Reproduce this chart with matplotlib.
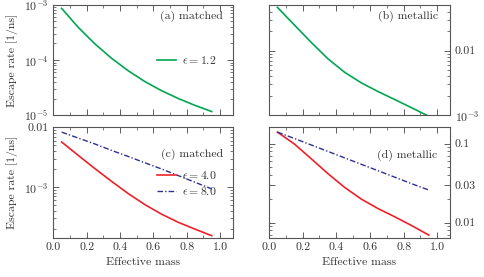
import numpy as np
import matplotlib
matplotlib.use("Agg")
import matplotlib.pyplot as plt
from matplotlib.ticker import FixedLocator, FixedFormatter, LogLocator, NullFormatter, MultipleLocator

# effective mass grid
mass = [0.05, 0.15, 0.25, 0.35, 0.45, 0.55, 0.65, 0.75, 0.85, 0.95]

# (a) matched, eps = 1.2
matched_12 = [8.59e-4, 3.88e-4, 1.95e-4, 1.07e-4, 6.37e-5, 4.06e-5, 2.78e-5, 2.01e-5, 1.51e-5, 1.17e-5]
# (b) metallic, eps = 1.2
metallic_12 = [0.0468, 0.0251, 0.0135, 0.0075, 0.00462, 0.00316, 0.00232, 0.00174, 0.0013, 0.000966]
# (c) matched, eps = 4.0 / 8.0
matched_40 = [5.68e-3, 3.38e-3, 2.03e-3, 1.24e-3, 7.74e-4, 5.06e-4, 3.5e-4, 2.56e-4, 1.97e-4, 1.53e-4]
matched_80 = [8.3e-3, 6.6e-3, 5.25e-3, 4.1e-3, 3.24e-3, 2.54e-3, 2.0e-3, 1.55e-3, 1.2e-3, 9.3e-4]
# (d) metallic, eps = 4.0 / 8.0
metallic_40 = [0.14, 0.0993, 0.0647, 0.0418, 0.0279, 0.0198, 0.0150, 0.0118, 0.00914, 0.00697]
metallic_80 = [0.14, 0.1164, 0.0964, 0.0798, 0.066, 0.0547, 0.0453, 0.0375, 0.031, 0.0259]

plt.rcParams['font.family'] = 'serif'
plt.rcParams['font.serif'] = ['cmr10', 'DejaVu Serif']
plt.rcParams['mathtext.fontset'] = 'cm'
plt.rcParams['axes.formatter.use_mathtext'] = True
plt.rcParams['font.size'] = 8.5

txt = '#333333'
green = '#00a651'
red = '#ee2129'
blue = '#2e3192'

fig = plt.figure(figsize=(4.84, 2.77), dpi=100)
W = 484.0
H = 277.0

def box(l, r, t, b):
    return [l / W, 1 - b / H, (r - l) / W, (b - t) / H]

axa = fig.add_axes(box(53.3, 232.7, 4.7, 115.3))
axb = fig.add_axes(box(269, 450, 4.7, 115.3))
axc = fig.add_axes(box(53.3, 232.7, 127.3, 238))
axd = fig.add_axes(box(269, 450, 127.3, 238))

dashdot = (0, (4, 1.5, 1, 1.5))
axa.plot(mass, matched_12, color=green, lw=1.2, label=r'$\epsilon = 1.2$')
axb.plot(mass, metallic_12, color=green, lw=1.2)
axc.plot(mass, matched_40, color=red, lw=1.2, label=r'$\epsilon = 4.0$')
axc.plot(mass, matched_80, color=blue, lw=1.0, ls=dashdot, label=r'$\epsilon = 8.0$')
axd.plot(mass, metallic_40, color=red, lw=1.2)
axd.plot(mass, metallic_80, color=blue, lw=1.0, ls=dashdot)

ylims = {axa: (1e-5, 1e-3), axb: (1e-3, 0.0514), axc: (1.4e-4, 0.01), axd: (0.0064, 0.161)}
yticks = {axa: ([1e-5, 1e-4, 1e-3], [r'$10^{-5}$', r'$10^{-4}$', r'$10^{-3}$']),
          axb: ([1e-3, 0.01], [r'$10^{-3}$', '0.01']),
          axc: ([1e-3, 0.01], [r'$10^{-3}$', '0.01']),
          axd: ([0.01, 0.03, 0.1], ['0.01', '0.03', '0.1'])}

for ax in [axa, axb, axc, axd]:
    ax.set_yscale('log')
    ax.set_xlim(0, 1.076)
    ax.set_ylim(*ylims[ax])
    ax.yaxis.set_major_locator(FixedLocator(yticks[ax][0]))
    ax.yaxis.set_major_formatter(FixedFormatter(yticks[ax][1]))
    ax.yaxis.set_minor_locator(LogLocator(base=10, subs=np.arange(2, 10)))
    ax.yaxis.set_minor_formatter(NullFormatter())
    ax.xaxis.set_major_locator(MultipleLocator(0.2))
    ax.xaxis.set_minor_locator(MultipleLocator(0.1))
    ax.tick_params(which='both', direction='in', top=True, right=True, colors='#444444',
                   labelcolor=txt, labelsize=8.5)
    ax.tick_params(which='major', length=4, width=0.6)
    ax.tick_params(which='minor', length=2, width=0.5)
    for s in ax.spines.values():
        s.set_color('#555555')
        s.set_linewidth(0.8)

for ax in [axa, axb]:
    ax.tick_params(labelbottom=False)
for ax in [axb, axd]:
    ax.tick_params(labelleft=False, labelright=True)
for ax in [axc, axd]:
    ax.set_xticks([0.0, 0.2, 0.4, 0.6, 0.8, 1.0])
    ax.set_xticklabels(['0.0', '0.2', '0.4', '0.6', '0.8', '1.0'])
    ax.set_xlabel('Effective mass', color=txt)
axa.set_ylabel('Escape rate [1/ns]', color=txt)
axc.set_ylabel('Escape rate [1/ns]', color=txt)

axa.text(0.946, 0.898, '(a) matched', transform=axa.transAxes, ha='right', va='center', color=txt)
axb.text(0.932, 0.898, '(b) metallic', transform=axb.transAxes, ha='right', va='center', color=txt)
axc.text(0.946, 0.759, '(c) matched', transform=axc.transAxes, ha='right', va='center', color=txt)
axd.text(0.932, 0.747, '(d) metallic', transform=axd.transAxes, ha='right', va='center', color=txt)

leg_kw = dict(frameon=False, handlelength=1.6, handletextpad=0.5, borderpad=0,
              borderaxespad=0, labelspacing=0.3, labelcolor=txt)
axa.legend(loc='center left', bbox_to_anchor=(0.578, 0.497), **leg_kw)
axc.legend(loc='center left', bbox_to_anchor=(0.578, 0.497), **leg_kw)

fig.savefig('out.png', dpi=100)
